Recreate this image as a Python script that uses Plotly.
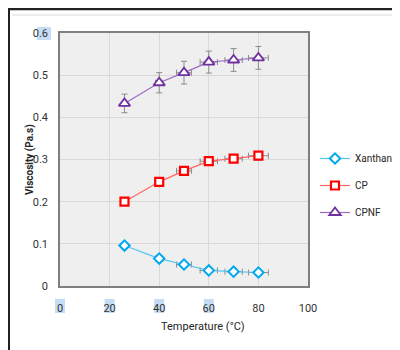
import plotly.graph_objects as go

temperature = [26, 40, 50, 60, 70, 80]
temp_err = [0.5, 1.5, 3, 3.5, 3.5, 4]

xanthan = [0.096, 0.065, 0.051, 0.037, 0.034, 0.032]
xanthan_err = [0.006, 0.005, 0.005, 0.004, 0.004, 0.004]
cp = [0.200, 0.247, 0.273, 0.296, 0.302, 0.309]
cp_err = [0.006, 0.008, 0.008, 0.009, 0.009, 0.01]
cpnf = [0.433, 0.482, 0.506, 0.531, 0.536, 0.541]
cpnf_err = [0.022, 0.024, 0.027, 0.026, 0.027, 0.027]

series = [
    ("Xanthan", xanthan, xanthan_err, "#00a8f0", "#55c4f2", "diamond", 8, 2.0),
    ("CP", cp, cp_err, "#ff0000", "#ff6666", "square", 8, 2.2),
    ("CPNF", cpnf, cpnf_err, "#7030a0", "#9a6cc6", "triangle-up", 10, 1.8),
]

# page has an 8px body margin; figure is sized to fit the 400x350 window
O = 8
W, H = 400 - O, 350 - O
# plot area in page pixels
L, R, T, B = 60, 308, 33, 286

def px(x):
    return (x - L) / (R - L)

def py(y):
    return (B - y) / (B - T)

fig = go.Figure()
for name, vals, errs, mcol, lcol, sym, sz, lw in series:
    fig.add_trace(go.Scatter(
        x=temperature, y=vals, name=name, mode="lines+markers",
        line=dict(color=lcol, width=1.2),
        marker=dict(symbol=sym, size=sz, color="white", line=dict(color=mcol, width=lw)),
        error_y=dict(type="data", array=errs, color="#8c8c8c", thickness=1, width=3),
        error_x=dict(type="data", array=temp_err, color="#8c8c8c", thickness=1, width=3),
        legendgroup=name,
    ))

font_main = "Roboto, Arial, sans-serif"

shapes = []
# highlight boxes behind some tick labels
for xv in [0, 20, 40, 60]:
    cx = L + (R - L) * xv / 100
    shapes.append(dict(type="rect", xref="paper", yref="paper",
                       x0=px(cx - 5), x1=px(cx + 5), y0=py(313), y1=py(299),
                       fillcolor="#c5ddf2", line=dict(width=0), layer="below"))
shapes.append(dict(type="rect", xref="paper", yref="paper",
                   x0=px(37), x1=px(51), y0=py(40), y1=py(27),
                   fillcolor="#c5ddf2", line=dict(width=0), layer="below"))
# outer frame
shapes.append(dict(type="line", xref="paper", yref="paper",
                   x0=px(8), x1=px(400), y0=py(9), y1=py(9),
                   line=dict(color="#222222", width=2.5)))
shapes.append(dict(type="line", xref="paper", yref="paper",
                   x0=px(9), x1=px(9), y0=py(9), y1=py(350),
                   line=dict(color="#222222", width=2)))
shapes.append(dict(type="line", xref="paper", yref="paper",
                   x0=px(12), x1=px(398), y0=py(15), y1=py(15),
                   line=dict(color="#e6e6e6", width=1.5)))
shapes.append(dict(type="line", xref="paper", yref="paper",
                   x0=px(397), x1=px(397), y0=py(15), y1=py(350),
                   line=dict(color="#e6e6e6", width=1.5)))

fig.update_layout(
    width=W, height=H,
    margin=dict(l=L - O, r=400 - R, t=T - O, b=350 - B, pad=0, autoexpand=False),
    paper_bgcolor="white",
    plot_bgcolor="#efefef",
    font=dict(family=font_main, size=11, color="#333333"),
    showlegend=True,
    legend=dict(x=px(315), y=py(144), xanchor="left", yanchor="top",
                font=dict(size=10, color="#262626"), tracegroupgap=8,
                bgcolor="rgba(0,0,0,0)", itemwidth=30),
    shapes=shapes,
    annotations=[
        dict(text="<b>Viscosity (Pa.s)</b>", xref="paper", yref="paper",
             x=px(30), y=py(160), xanchor="center", yanchor="middle",
             showarrow=False, textangle=-90,
             font=dict(size=10, color="#262626", family=font_main)),
        dict(text="Temperature (°C)", xref="paper", yref="paper",
             x=px(203), y=py(326), xanchor="center", yanchor="middle",
             showarrow=False,
             font=dict(size=11, color="#262626", family=font_main)),
    ],
)
fig.update_xaxes(range=[0, 100], tickvals=[0, 20, 40, 60, 80, 100],
                 showgrid=True, gridcolor="#d9d9d9", gridwidth=1,
                 showline=True, linecolor="#808080", linewidth=1.5, mirror=True,
                 zeroline=False, ticks="", ticklabelstandoff=11,
                 tickfont=dict(size=11, color="#333333"))
fig.update_yaxes(range=[0, 0.6], tickvals=[0, 0.1, 0.2, 0.3, 0.4, 0.5, 0.6],
                 ticktext=["0", "0.1", "0.2", "0.3", "0.4", "0.5", "0.6"],
                 showgrid=True, gridcolor="#d9d9d9", gridwidth=1,
                 showline=True, linecolor="#808080", linewidth=1.5, mirror=True,
                 zeroline=False, ticks="", ticklabelstandoff=8,
                 tickfont=dict(size=11, color="#333333"))

fig.write_html("out.html")
